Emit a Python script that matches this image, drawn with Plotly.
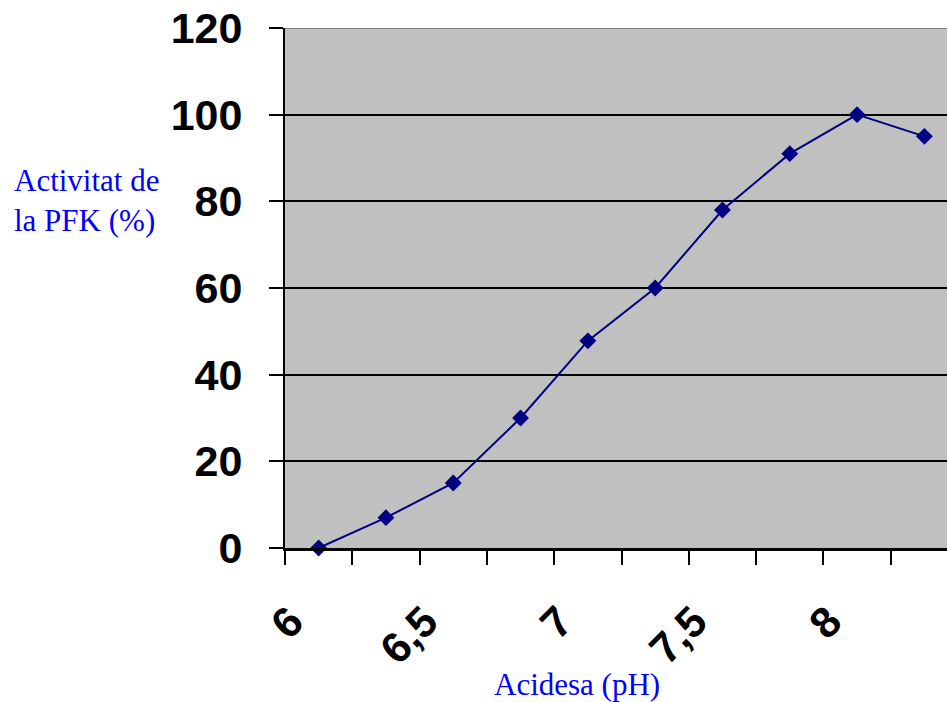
import plotly.graph_objects as go

ph = [6.0, 6.25, 6.5, 6.75, 7.0, 7.25, 7.5, 7.75, 8.0, 8.25]
activity = [0, 7, 15, 30, 47.8, 60, 78, 91, 100, 95]
label_vals = [6.0, 6.5, 7.0, 7.5, 8.0]
label_text = ["6", "6,5", "7", "7,5", "8"]
y_ticks = [0, 20, 40, 60, 80, 100, 120]

step = ph[1] - ph[0]
boundaries = [p - step / 2 for p in ph] + [ph[-1] + step / 2]

fig = go.Figure()
fig.add_trace(go.Scatter(
    x=ph, y=activity, mode="lines+markers",
    line=dict(color="#000080", width=2),
    marker=dict(symbol="diamond", size=13, color="#000080"),
    showlegend=False, cliponaxis=False,
))

W, H = 947, 702
L, R, T, B = 285, 0, 28, 154

def px(xp):
    return (xp - L) / (W - L - R)

def py(yp):
    return (H - B - yp) / (H - B - T)

fig.update_layout(
    width=W, height=H,
    margin=dict(l=L, r=R, t=T, b=B, autoexpand=False),
    paper_bgcolor="white", plot_bgcolor="#C0C0C0",
    xaxis=dict(
        range=[boundaries[0], boundaries[0] + step * 9.836],
        tickmode="array", tickvals=label_vals, ticktext=label_text,
        ticks="", tickangle=-45, automargin=False,
        tickfont=dict(family="Liberation Sans", size=43, color="black", weight="bold"),
        ticklabelstandoff=28, ticklabelshift=-28,
        showgrid=False, zeroline=False,
        showline=True, linecolor="black", linewidth=3,
        minor=dict(tickmode="array", tickvals=boundaries, ticks="outside",
                   ticklen=14, tickwidth=2, tickcolor="black", showgrid=False),
    ),
    yaxis=dict(
        range=[0, 120], tickmode="array", tickvals=y_ticks,
        ticks="outside", ticklen=14, tickwidth=2, tickcolor="black",
        tickfont=dict(family="Liberation Sans", size=43, color="black", weight="bold"),
        ticklabelstandoff=18, ticklabeloverflow="allow", automargin=False,
        showgrid=True, gridcolor="black", gridwidth=2,
        zeroline=False,
        showline=True, linecolor="black", linewidth=2,
    ),
    shapes=[dict(type="line", xref="paper", yref="y", x0=0, x1=1, y0=120, y1=120,
                 line=dict(color="#808080", width=2))],
    annotations=[
        dict(text="Activitat de<br>la PFK (%)", xref="paper", yref="paper",
             x=px(12), y=py(200),
             xanchor="left", yanchor="middle", align="left", showarrow=False,
             font=dict(family="Liberation Serif", size=31, color="#0000FF")),
        dict(text="Acidesa (pH)", xref="paper", yref="paper",
             x=px(577), y=py(684),
             xanchor="center", yanchor="middle", showarrow=False,
             font=dict(family="Liberation Serif", size=31, color="#0000FF")),
    ],
)

fig.write_html(
    "out.html",
    config={"displayModeBar": False},
    post_script="document.body.style.margin='0';document.documentElement.style.overflow='hidden';document.body.style.overflow='hidden';",
)
